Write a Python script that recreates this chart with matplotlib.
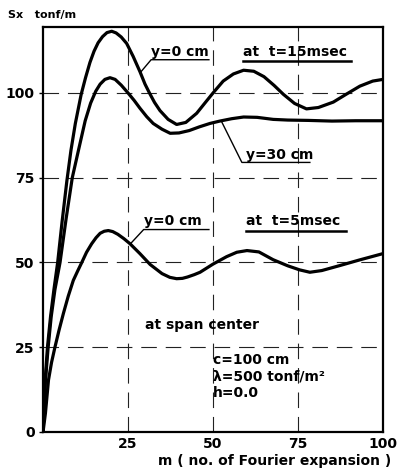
import matplotlib
matplotlib.use("Agg")
import matplotlib.pyplot as plt

# Sx versus number of Fourier terms m, at span center
m_t15_y0 = [0, 0.6, 1.3, 2.2, 3.2, 4.3, 5.6, 7, 8.2, 9.5, 11.2, 12.5, 13.8, 15, 16.2, 17.5,
            18.8, 20.2, 21.5, 23, 24.6, 26.5, 28.5, 30, 31.3, 32.8, 34.4, 36.8, 39.3, 42,
            45.2, 48, 50.1, 53, 56, 59, 62, 65, 68, 70.7, 74, 77.5, 81, 85.4, 89, 93.2,
            97, 100]
sx_t15_y0 = [0, 15, 25, 34, 42, 50, 62, 74, 83, 91, 99.5, 104.5, 109, 112.3, 114.8, 116.6,
             117.8, 118.2, 117.7, 116.5, 114.6, 110.8, 106.3, 102.6, 100, 97.2, 94.8, 92.2, 90.7, 91.3,
             94, 97.5, 100.1, 103.5, 105.6, 106.7, 106.4, 104.8, 102.2, 99.6, 96.9, 95.3, 95.7, 97.3, 99.5, 102,
             103.5, 104]

m_t15_y30 = [0, 0.7, 1.5, 2.4, 3.5, 5, 6.8, 8.6, 10.4, 12.4, 14, 15.5, 16.8, 18.2, 19.7,
             21.2, 23, 25, 26.8, 28.5, 30.5, 32.4, 35, 37.4, 40, 43, 46, 49.1, 52, 55.5,
             59, 63, 67.7, 72, 78, 85, 92, 100]
sx_t15_y30 = [0, 15, 25, 34, 42, 50, 63, 75, 83, 91.8, 97, 100.5, 102.6, 104, 104.5,
              104, 102.3, 100, 97.8, 95.5, 93, 91, 89.3, 88.1, 88.2, 88.9, 90, 91, 91.7, 92.4,
              92.9, 92.8, 92.2, 92, 91.9, 91.7, 91.8, 91.8]

m_t5_y0 = [0, 0.7, 1.6, 2.5, 3.5, 4.7, 6, 7.4, 8.9, 10.2, 11.4, 12.8, 14.3, 15.6, 16.8,
           18, 19.2, 20.5, 22, 23.8, 25.6, 28.5, 31.5, 35, 37.3, 39.3, 41, 42.5, 44.5, 46.2,
           50, 54, 57, 60, 63.5, 67.7, 72, 75.5, 78.5, 82, 87.4, 93, 100]
sx_t5_y0 = [0, 5.5, 15.3, 20.5, 25, 30, 35, 40, 44.7, 47.5, 50, 53, 55.5, 57.3, 58.6,
            59.2, 59.4, 59.1, 58.3, 57, 55.5, 52.6, 49.4, 46.7, 45.6, 45.2, 45.3, 45.7, 46.4, 47.1,
            49.5, 51.7, 53, 53.5, 53.1, 50.8, 49, 47.8, 47.1, 47.6, 49.1, 50.7, 52.6]

x_ticks = [25, 50, 75, 100]
y_ticks = [0, 25, 50, 75, 100]

plt.rcParams["font.family"] = ["DejaVu Sans"]

fig = plt.figure(figsize=(4.10, 4.71), dpi=100)
ax = fig.add_axes([0.105, 0.083, 0.829, 0.860])
ax.set_xlim(0, 100)
ax.set_ylim(0, 119.5)

# broken grid lines
for gy in [25, 50, 75, 100]:
    ax.axhline(gy, color="#222222", lw=0.8, ls=(0, (14, 8)), zorder=1)
for gx in [25, 50, 75]:
    ax.axvline(gx, color="#222222", lw=0.8, ls=(0, (14, 8)), zorder=1)

lw = 2.3
for mm, ss in [(m_t15_y0, sx_t15_y0), (m_t15_y30, sx_t15_y30), (m_t5_y0, sx_t5_y0)]:
    ax.plot(mm, ss, color="black", lw=lw, zorder=3,
            solid_joinstyle="round", solid_capstyle="round")

for s in ax.spines.values():
    s.set_linewidth(1.6)

ax.set_xticks(x_ticks)
ax.set_yticks(y_ticks)
ax.set_xticklabels([str(v) for v in x_ticks], fontsize=10, fontweight="bold")
ax.set_yticklabels([str(v) for v in y_ticks], fontsize=10, fontweight="bold")
ax.tick_params(axis="x", length=0, pad=4)
ax.tick_params(axis="y", length=3, width=1, pad=3)

ax.text(0.68, -0.073, "m ( no. of Fourier expansion )", transform=ax.transAxes,
        ha="center", va="center", fontsize=10, fontweight="bold")
fig.text(0.02, 0.968, "Sx   tonf/m", ha="left", va="center", fontsize=8, fontweight="bold")

lab = dict(fontsize=10, fontweight="bold", color="black", zorder=4, va="baseline", ha="left")

# t = 15 msec, y = 0 cm
ax.text(31.8, 110.9, "y=0 cm", **lab)
ax.plot([28.6, 31.8, 48.8], [106.0, 109.8, 109.8], color="black", lw=1.0)
ax.text(58.8, 110.9, "at  t=15msec", **lab)
ax.plot([58.8, 90.5], [109.3, 109.3], color="black", lw=1.8)

# t = 15 msec, y = 30 cm
ax.text(59.8, 80.6, "y=30 cm", **lab)
ax.plot([52.6, 58.5, 78.5], [91.4, 79.5, 79.5], color="black", lw=1.0)

# t = 5 msec, y = 0 cm
ax.text(29.8, 61.0, "y=0 cm", **lab)
ax.plot([25.8, 29.6, 48.8], [55.6, 59.7, 59.7], color="black", lw=1.0)
ax.text(59.8, 61.0, "at  t=5msec", **lab)
ax.plot([59.8, 89.0], [59.4, 59.4], color="black", lw=1.8)

ax.text(30.0, 31.6, "at span center", ha="left", va="center", fontsize=10, fontweight="bold")
ax.text(50.0, 21.2, "c=100 cm", ha="left", va="center", fontsize=10, fontweight="bold")
ax.text(50.0, 16.2, "λ=500 tonf/m²", ha="left", va="center", fontsize=10, fontweight="bold")
ax.text(50.0, 11.6, "h=0.0", ha="left", va="center", fontsize=10, fontweight="bold")

fig.savefig("out.png", dpi=100)
